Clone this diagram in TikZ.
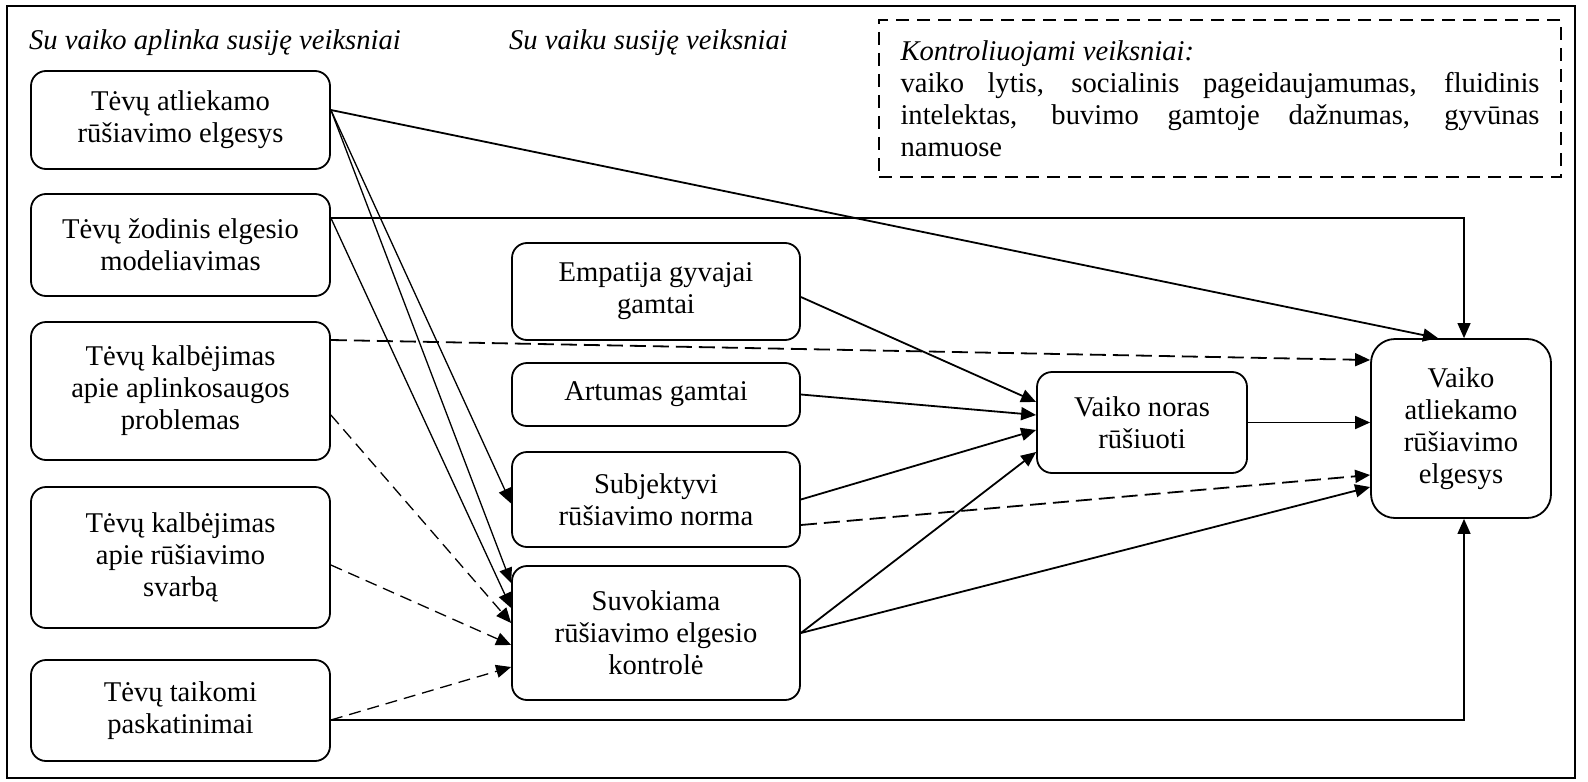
\documentclass[tikz,border=0pt]{standalone}
\usepackage{fontspec}
\setmainfont{Liberation Serif}
\usetikzlibrary{positioning,calc,arrows.meta}
\hyphenpenalty=10000
\tolerance=10000

\begin{document}
\begin{tikzpicture}[x=0.5pt,y=-0.5pt]
  \tikzstyle{every node}=[font=\fontsize{14.3}{16}\selectfont]
  \tikzstyle{factor}=[draw, line width=0.9pt, rounded corners=7.5pt, align=center, inner sep=2pt]
  \tikzstyle{leftfactor}=[factor, minimum width=149.5pt]
  \tikzstyle{midfactor}=[factor, minimum width=144pt]
  \tikzstyle{link}=[line width=0.9pt, -{Triangle[length=7.5pt,width=6.5pt]}]
  \tikzstyle{thinlink}=[link, line width=0.65pt]
  \tikzstyle{dlink}=[link, dash pattern=on 8pt off 3.5pt]
  \tikzstyle{dthinlink}=[thinlink, dash pattern=on 6pt off 3.5pt]
  \tikzstyle{heading}=[anchor=west, font=\fontsize{14.3}{16}\selectfont\itshape]

  \useasboundingbox (0,0) rectangle (1588,781);
  \draw[line width=1.3pt] (7,6) rectangle (1575,778);

  \node[heading] (envhead) at (22,43) {Su vaiko aplinka susiję veiksniai};
  \node[heading] (childhead) at (502,43) {Su vaiku susiję veiksniai};

  \node[draw, line width=0.9pt, dash pattern=on 6.5pt off 4pt, text width=319.5pt, align=justify,
        inner xsep=10.75pt, minimum height=78.5pt] (controls) at (1220,98.5)
    {\textit{Kontroliuojami veiksniai:}\\
     vaiko lytis, socialinis pageidaujamumas, fluidinis intelektas, buvimo gamtoje dažnumas, gyvūnas namuose};

  \node[leftfactor, minimum height=49pt] (parbeh) at (180.5,120) {Tėvų atliekamo\\rūšiavimo elgesys};
  \node[leftfactor, minimum height=51pt] (parverb) at (180.5,245) {Tėvų žodinis elgesio\\modeliavimas};
  \node[leftfactor, minimum height=69pt] (partalkenv) at (180.5,391) {Tėvų kalbėjimas\\apie aplinkosaugos\\problemas};
  \node[leftfactor, minimum height=70.5pt] (partalksort) at (180.5,557.5) {Tėvų kalbėjimas\\apie rūšiavimo\\svarbą};
  \node[leftfactor, minimum height=50.5pt] (parreward) at (180.5,710.5) {Tėvų taikomi\\paskatinimai};

  \node[midfactor, minimum height=48.5pt] (empathy) at (656,291.5) {Empatija gyvajai\\gamtai};
  \node[midfactor, minimum height=31.5pt] (closeness) at (656,394.5) {Artumas gamtai};
  \node[midfactor, minimum height=47.5pt] (norm) at (656,499.5) {Subjektyvi\\rūšiavimo norma};
  \node[midfactor, minimum height=67pt] (control) at (656,633) {Suvokiama\\rūšiavimo elgesio\\kontrolė};

  \node[factor, minimum width=105pt, minimum height=50.5pt] (intention) at (1142,422.5) {Vaiko noras\\rūšiuoti};
  \node[factor, minimum width=90pt, minimum height=89.5pt, rounded corners=12pt] (childbeh) at (1461,428.5)
    {Vaiko\\atliekamo\\rūšiavimo\\elgesys};

  \draw[link] ([yshift=5pt]parbeh.east) -- ([xshift=-11.5pt]childbeh.north);
  \draw[thinlink] ([yshift=5pt]parbeh.east) -- ([yshift=-2pt]norm.west);
  \draw[thinlink] ([yshift=5pt]parbeh.east) -- ([yshift=25pt]control.west);
  \draw[thinlink] ([yshift=13.5pt]parverb.east) -| ([xshift=1.5pt]childbeh.north);
  \draw[thinlink] ([yshift=13.5pt]parverb.east) -- ([yshift=12.5pt]control.west);
  \draw[dlink] ([yshift=25.5pt]partalkenv.east) -- ([yshift=34.25pt]childbeh.west);
  \draw[dthinlink] ([yshift=-12pt]partalkenv.east) -- ([yshift=5pt]control.west);
  \draw[dthinlink] ([yshift=-3.75pt]partalksort.east) -- ([yshift=-6pt]control.west);
  \draw[dthinlink] ([yshift=-4.75pt]parreward.east) -- ([yshift=-17pt]control.west);
  \draw[thinlink] ([yshift=-4.75pt]parreward.east) -| ([xshift=1.5pt]childbeh.south);

  \draw[link] ([yshift=-2.75pt]empathy.east) -- ([yshift=10.25pt]intention.west);
  \draw[link] (closeness.east) -- ([yshift=3.75pt]intention.west);
  \draw[link] (norm.east) -- ([yshift=-3.75pt]intention.west);
  \draw[link] (control.east) -- ([yshift=-14.75pt]intention.west);
  \draw[dlink] ([yshift=-12.75pt]norm.east) -- ([yshift=-23.25pt]childbeh.west);
  \draw[link] (control.east) -- ([yshift=-29.25pt]childbeh.west);
  \draw[link] (intention.east) -- (intention.east -| childbeh.west);
\end{tikzpicture}
\end{document}
